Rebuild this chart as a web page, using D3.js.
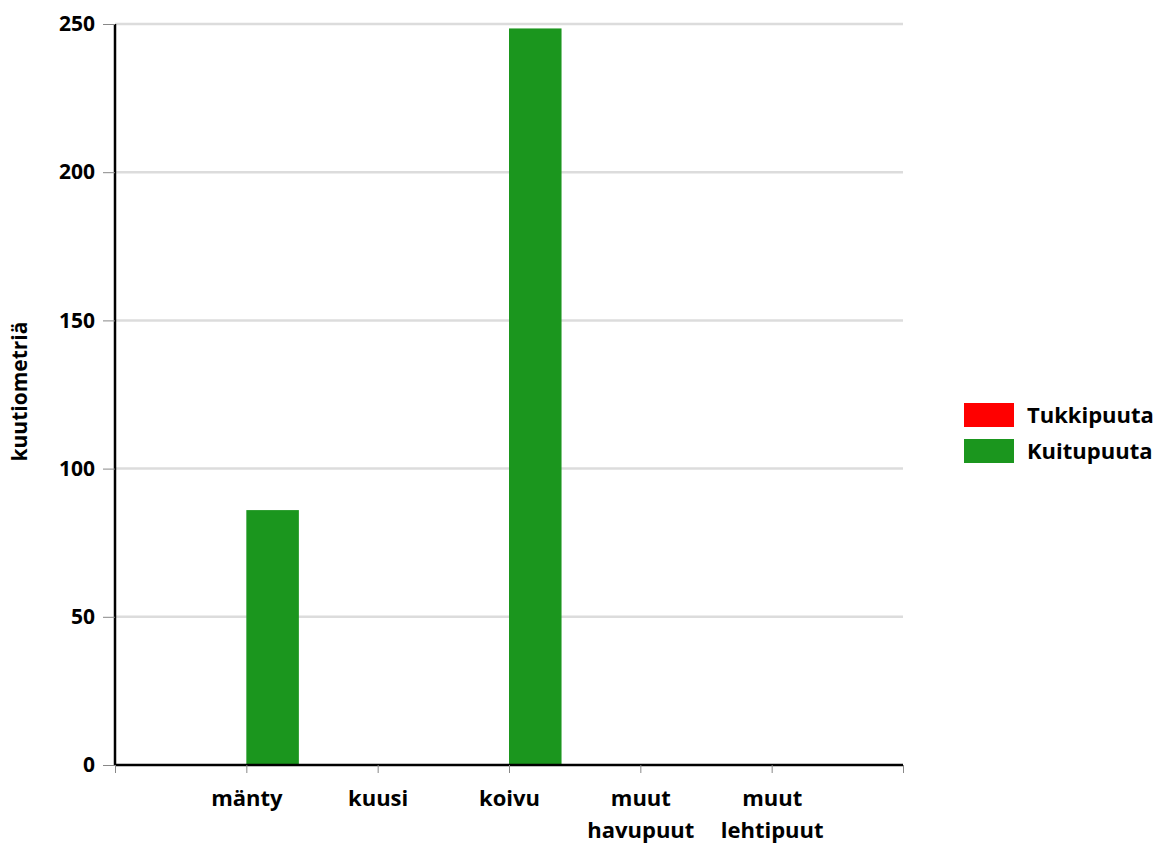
<!DOCTYPE html>
<html>
<head>
<meta charset="utf-8">
<script src="https://cdn.jsdelivr.net/npm/d3@7"></script>
<style>
  body { margin: 0; background: #fff; }
  text { font-family: "Open Sans", sans-serif; font-weight: bold; fill: #000; }
</style>
</head>
<body>
<svg id="chart"></svg>
<script>
// data
var categories = ["mänty", "kuusi", "koivu", "muut havupuut", "muut lehtipuut"];
var tukkipuuta = [0, 0, 0, 0, 0];
var kuitupuuta = [86, 0, 248.5, 0, 0];
var seriesNames = ["Tukkipuuta", "Kuitupuuta"];
var seriesColors = ["#ff0000", "#1b961e"];
var yTicks = [0, 50, 100, 150, 200, 250];

var width = 1159, height = 844;
var margin = {top: 24, right: 256, bottom: 79, left: 115};
var innerW = width - margin.left - margin.right,
    innerH = height - margin.top - margin.bottom;

var svg = d3.select("#chart")
  .attr("width", width)
  .attr("height", height)
  .append("g")
  .attr("transform", "translate(" + margin.left + "," + margin.top + ")");

var x = d3.scaleLinear().domain([0, categories.length + 1]).range([0, innerW]);
var y = d3.scaleLinear().domain([0, 250]).range([innerH, 0]);
var barW = (x(1) - x(0)) * 0.4;

// gridlines
svg.selectAll("line.grid")
  .data(yTicks.slice(1))
  .enter()
  .append("line")
    .attr("class", "grid")
    .attr("x1", 0)
    .attr("x2", innerW)
    .attr("y1", d => y(d))
    .attr("y2", d => y(d))
    .style("stroke", "#dcdcdc")
    .style("stroke-width", 2.5);

// bars
var rows = categories.map(function(c, i){ return {cat: c, i: i, vals: [tukkipuuta[i], kuitupuuta[i]]}; });
rows.forEach(function(r){
  r.vals.forEach(function(v, s){
    if (v <= 0) return;
    svg.append("rect")
      .attr("x", s === 0 ? x(r.i + 1) - barW : x(r.i + 1))
      .attr("y", y(v))
      .attr("width", barW)
      .attr("height", y(0) - y(v))
      .style("fill", seriesColors[s])
      .append("title")
      .text(r.cat + "\n" + seriesNames[s] + ": " + v);
  });
});

// y axis
var yAxis = svg.append("g")
  .call(d3.axisLeft(y).tickValues(yTicks).tickSize(12).tickPadding(8));
yAxis.select(".domain").attr("d", "M0," + y(250) + "V" + y(0)).style("stroke", "#000").style("stroke-width", 2.5);
yAxis.selectAll(".tick line").style("stroke", "#888");
yAxis.selectAll(".tick text").attr("font-size", "21px").style("font-family", "Open Sans");

// x axis
var xAxis = svg.append("g")
  .attr("transform", "translate(0," + innerH + ")")
  .call(d3.axisBottom(x).tickValues(d3.range(0, categories.length + 2)).tickSize(8)
    .tickFormat(function(i){ return categories[i - 1] || ""; }));
xAxis.select(".domain").attr("d", "M0,0H" + innerW).style("stroke", "#000").style("stroke-width", 2.5);
xAxis.selectAll(".tick line").style("stroke", "#888");
xAxis.selectAll(".tick text").each(function(d){
  var t = d3.select(this), label = categories[d - 1] || "";
  var words = label.split(" ");
  t.text(null).attr("font-size", "22px").attr("y", 0).attr("dy", null);
  words.forEach(function(w, k){
    t.append("tspan").attr("x", 0).attr("y", 41 + k * 32).text(w);
  });
});

// y label
svg.append("text")
  .attr("transform", "translate(" + (-88) + "," + (innerH / 2 - 3) + ") rotate(-90)")
  .attr("text-anchor", "middle")
  .attr("font-size", "21px")
  .text("kuutiometriä");

// legend
var legend = svg.append("g").attr("transform", "translate(" + (964 - margin.left) + "," + (403 - margin.top) + ")");
seriesNames.forEach(function(n, k){
  legend.append("rect").attr("x", 0).attr("y", k * 36).attr("width", 50).attr("height", 24).style("fill", seriesColors[k]);
  legend.append("text").attr("x", 63).attr("y", k * 36 + 20).attr("font-size", "22px").text(n);
});
</script>
</body>
</html>
